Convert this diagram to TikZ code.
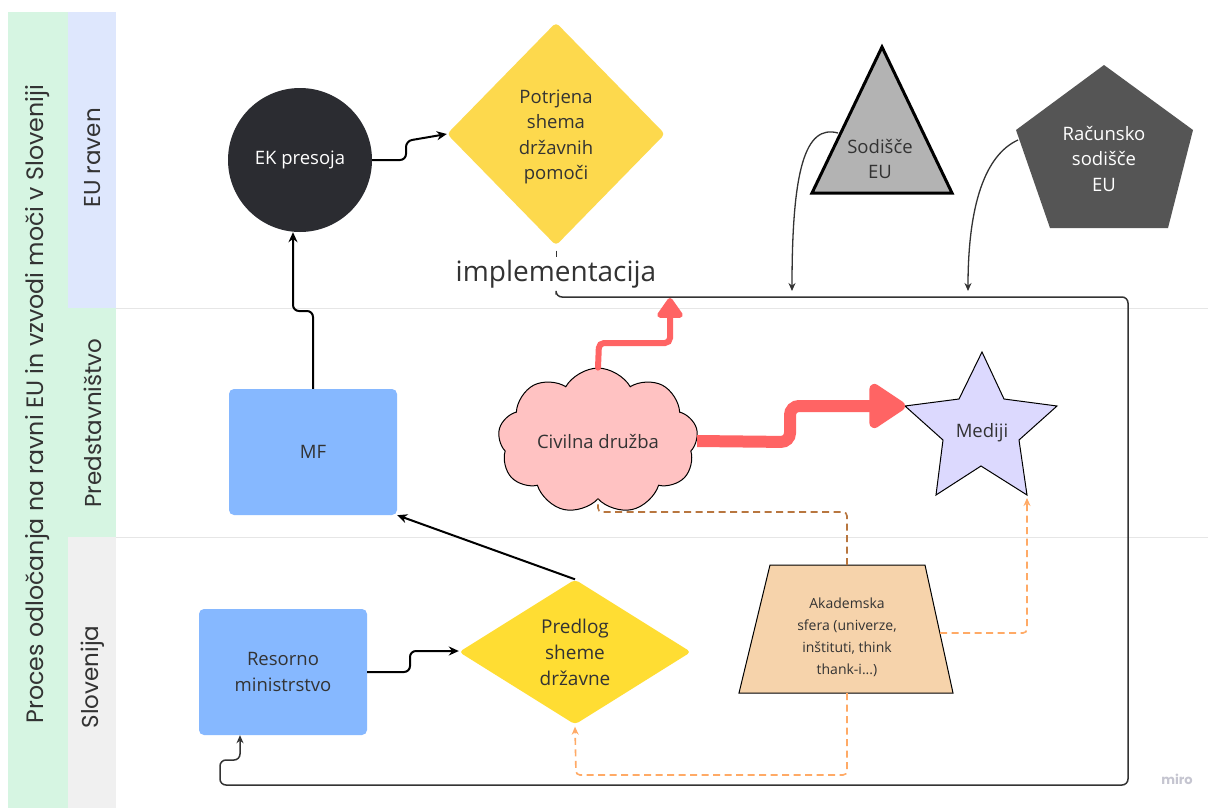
\documentclass[tikz,border=0pt]{standalone}
\usepackage{fontspec}
\setmainfont{Open Sans}
\newfontfamily\lanefont{Poppins}
\usetikzlibrary{shapes.geometric,shapes.symbols,arrows.meta,calc}

\definecolor{lanegreen}{HTML}{D6F5E2}
\definecolor{laneblue}{HTML}{DEE7FD}
\definecolor{lanegrey}{HTML}{F0F0F0}
\definecolor{laneline}{HTML}{E6E6E6}
\definecolor{ekdark}{HTML}{2B2C31}
\definecolor{yellowA}{HTML}{FDD94D}
\definecolor{yellowB}{HTML}{FFDD33}
\definecolor{boxblue}{HTML}{86B8FF}
\definecolor{cloudpink}{HTML}{FFC2C2}
\definecolor{starlav}{HTML}{DCD9FE}
\definecolor{peach}{HTML}{F6D3AB}
\definecolor{redarrow}{HTML}{FF6464}
\definecolor{dashbrown}{HTML}{B8763F}
\definecolor{dashorange}{HTML}{FFAA66}
\definecolor{courtgrey}{HTML}{B3B3B3}
\definecolor{pentgrey}{HTML}{555555}
\definecolor{inkgrey}{HTML}{333333}
\definecolor{mirogrey}{HTML}{C5C5D0}

\tikzset{
  lanetitle/.style={rotate=90, text=inkgrey, font=\lanefont\fontsize{23}{27}\selectfont},
  label16/.style={align=center, text=inkgrey, font=\fontsize{18.5}{25.5}\selectfont},
  bluebox/.style={rectangle, rounded corners=5pt, fill=boxblue, minimum width=168pt, minimum height=126pt, label16},
  flowarrow/.style={-{Stealth[length=10pt,width=9pt]}, line width=2pt, black, rounded corners=6pt},
  thinarrow/.style={-{Stealth[length=8pt,width=7pt]}, line width=1.3pt, inkgrey},
  dashline/.style={line width=1.6pt, dash pattern=on 7pt off 4.5pt, rounded corners=4pt},
}

\begin{document}
\begin{tikzpicture}[x=1pt,y=-1pt]
\useasboundingbox (0,0) rectangle (1208,809);
\fill[white] (0,0) rectangle (1208,809);

% swimlane frame
\fill[lanegreen] (8,12) rectangle (68,808);
\fill[laneblue] (68,12) rectangle (116,308);
\fill[lanegreen] (68,308) rectangle (116,537);
\fill[lanegrey] (68,537) rectangle (116,808);
\draw[laneline, line width=1pt] (116,308) -- (1208,308);
\draw[laneline, line width=1pt] (116,537) -- (1208,537);

\node[lanetitle, font=\lanefont\fontsize{23.7}{27}\selectfont] (title) at (38,404)
  {Proces odločanja na ravni EU in vzvodi moči v Sloveniji};
\node[lanetitle] (laneeu) at (93,158) {EU raven};
\node[lanetitle] (lanepred) at (93,423) {Predstavništvo};
\node[lanetitle] (laneslo) at (93,677) {Slovenija};

% EU level
\node[circle, fill=ekdark, minimum size=144pt, inner sep=0pt, label16, text=white] (ek) at (300,160) {EK presoja};
\node[diamond, fill=yellowA, rounded corners=4pt, minimum width=218pt, minimum height=223pt,
      inner sep=0pt, label16] (potrjena) at (556,134) {};
\node[label16] (potrjenatext) at (556,137) {Potrjena\\shema\\državnih\\pomoči};

% Court of Justice (triangle)
\coordinate (sodtop) at (882,47);
\coordinate (sodleft) at (838,133);
\filldraw[fill=courtgrey, draw=black, line width=3pt, line join=miter]
  (sodtop) -- (952,193) -- (812,193) -- cycle;
\node[label16] (sodisce) at (880,159) {Sodišče\\EU};

% Court of Auditors (pentagon)
\coordinate (racleft) at (1018,140);
\fill[pentgrey] (1104,65) -- (1193,130) -- (1168,228) -- (1050,228) -- (1016,130) -- cycle;
\node[label16, text=white] (racunsko) at (1104,159) {Računsko\\sodišče\\EU};

% implementation line
\node[text=inkgrey, font=\fontsize{28}{30}\selectfont] (impl) at (556,274) {implementacija};
\coordinate (loopbr) at (1128,785);
\coordinate (looptr) at (1128,297);
\coordinate (loopbl) at (220,785);
\draw[inkgrey, line width=1pt] (potrjena.south) ++(0,5) -- ++(0,6);

% Representation level
\node[bluebox] (mf) at (313,452) {MF};
\node[cloud, cloud puffs=9, cloud puff arc=120, aspect=1.45, draw=black, line width=1pt,
      fill=cloudpink, minimum width=200pt, minimum height=138pt, inner sep=0pt,
      label16] (civil) at (598,441) {Civilna družba};

% Media (star)
\coordinate (starbr) at (1027,495);
\coordinate (starleft) at (905,406);
\filldraw[fill=starlav, draw=black, line width=1pt, line join=miter]
  (982,352) -- (1004,399) -- (1057,406) -- (1019,440) -- (starbr) -- (981,466)
  -- (936,495) -- (943,440) -- (starleft) -- (959,399) -- cycle;
\node[label16] (mediji) at (982,433) {Mediji};

% Slovenia level
\node[bluebox] (resorno) at (283,672) {Resorno\\ministrstvo};
\node[diamond, fill=yellowB, rounded corners=4pt, minimum width=232pt, minimum height=145pt,
      inner sep=0pt, label16, font=\fontsize{19}{26}\selectfont] (predlog) at (575,652)
      {Predlog\\sheme\\državne};

% Academia (trapezoid)
\coordinate (akatop) at (847,565);
\coordinate (akaright) at (940,633);
\coordinate (akabottom) at (847,693);
\filldraw[fill=peach, draw=black, line width=1pt, line join=miter]
  (770,565) -- (925,565) -- (953,693) -- (739,693) -- cycle;
\node[align=center, text=inkgrey, font=\fontsize{14}{22}\selectfont] (akademska) at (847,637)
  {Akademska\\sfera (univerze,\\inštituti, think\\thank-i...)};

% connectors
\draw[flowarrow] (ek.east) -- (406,160) -- (406,141) -- (potrjena.west);
\draw[flowarrow] (mf.north) -- (313,311) -- (293,311) -- (ek.south -| 293,0);
\draw[flowarrow] (resorno.east |- 0,672) -- (410,672) -- (410,651) -- (predlog.west |- 0,651);
\draw[flowarrow, rounded corners=0pt] (predlog.north) -- (mf.south east);

\draw[thinarrow] (sodleft) .. controls (805,124) and (792,170) .. (792,291);
\draw[thinarrow] (racleft) .. controls (985,155) and (968,205) .. (968,291);

\draw[inkgrey, line width=1.5pt, rounded corners=6pt] (impl.south) ++(0,3)
  |- (looptr) -- (loopbr) -- (loopbl) -- (220,760) -- (240,760)
  [-{Stealth[length=8pt,width=7pt]}] -- (resorno.south -| 240,0);

\draw[redarrow, line width=6pt, rounded corners=5pt, line cap=round,
      -{Triangle[round, length=22pt, width=29pt]}]
  (civil.north) -- (599,343) -- (670,343) -- (670,298);
\draw[redarrow, line width=12pt, rounded corners=9pt,
      -{Triangle[round, length=40pt, width=50pt]}]
  (civil.east) -- (790,442) -- (790,406) -- (starleft);

\draw[dashline, dashbrown] (akatop) -- (847,512) -- (598,512) -- (civil.south);
\draw[dashline, dashorange, -{Stealth[length=8pt,width=7pt]}]
  (akaright) -- (1027,633) -- ($(starbr)+(0,3)$);
\draw[dashline, dashorange, -{Stealth[length=8pt,width=7pt]}]
  (akabottom) -- (847,775) -- (576,775) -- ($(predlog.south)+(0,2)$);

\node[text=mirogrey, font=\lanefont\bfseries\fontsize{13}{15}\selectfont] (miro) at (1177,779) {miro};
\end{tikzpicture}
\end{document}
